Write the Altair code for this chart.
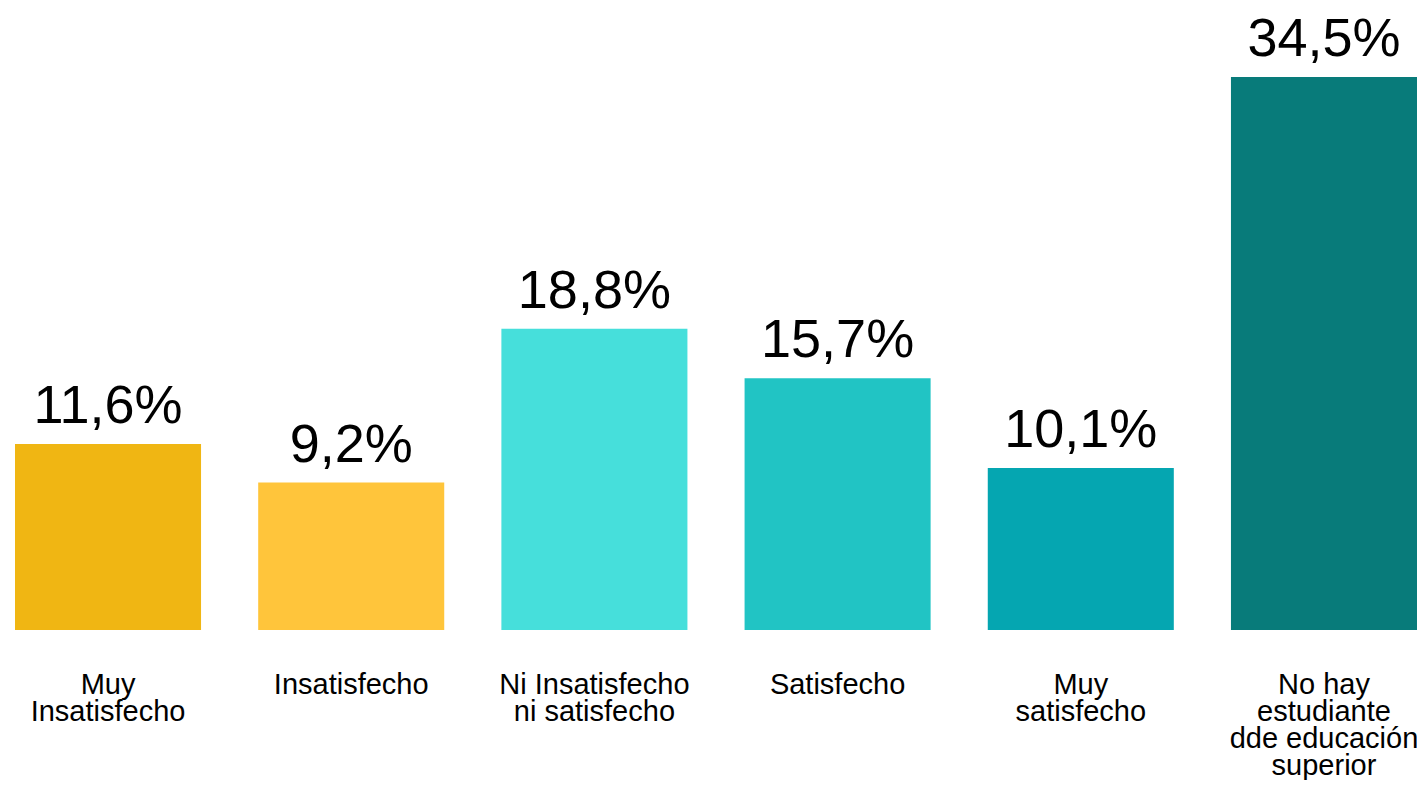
import altair as alt
import pandas as pd

categories = [
    "Muy\nInsatisfecho",
    "Insatisfecho",
    "Ni Insatisfecho\nni satisfecho",
    "Satisfecho",
    "Muy\nsatisfecho",
    "No hay\nestudiante\ndde educación\nsuperior",
]
values = [11.6, 9.2, 18.8, 15.7, 10.1, 34.5]
colors = ["#F0B613", "#FFC53B", "#46DFDB", "#21C4C4", "#05A6B1", "#087B7A"]

df = pd.DataFrame({"cat": categories, "value": values})

x_scale = alt.Scale(paddingInner=0.235, paddingOuter=0, round=False)

x = alt.X(
    "cat:N",
    sort=categories,
    scale=x_scale,
    axis=alt.Axis(
        title=None,
        ticks=False,
        domain=False,
        labelAngle=0,
        labelAlign="center",
        labelBaseline="top",
        labelPadding=40,
        labelFontSize=29,
        labelFont="Liberation Sans",
        labelColor="#000000",
        labelLineHeight=27,
        labelLimit=0,
        labelExpr="split(datum.label, '\\n')",
    ),
)
y = alt.Y(
    "value:Q",
    scale=alt.Scale(domain=[0, 34.5], nice=False, zero=True),
    axis=None,
)

bars = alt.Chart(df).mark_bar(clip=False).encode(
    x=x,
    y=y,
    color=alt.Color("cat:N", sort=categories,
                    scale=alt.Scale(domain=categories, range=colors), legend=None),
)

labels = alt.Chart(df).transform_calculate(
    lbl="replace(format(datum.value, '.1f'), '.', ',') + '%'"
).mark_text(
    baseline="alphabetic", dy=-21, fontSize=54, font="Liberation Sans", color="#000000"
).encode(x=alt.X("cat:N", sort=categories, scale=x_scale), y=y, text="lbl:N")

chart = (bars + labels).properties(
    width=1402,
    height=553,
    background="white",
    autosize=alt.AutoSizeParams(type="none"),
    padding={"left": 7, "top": 69, "right": 0, "bottom": 150},
).configure_view(strokeWidth=0)

chart.save("out.html", embed_options={"renderer": "svg", "actions": False})
